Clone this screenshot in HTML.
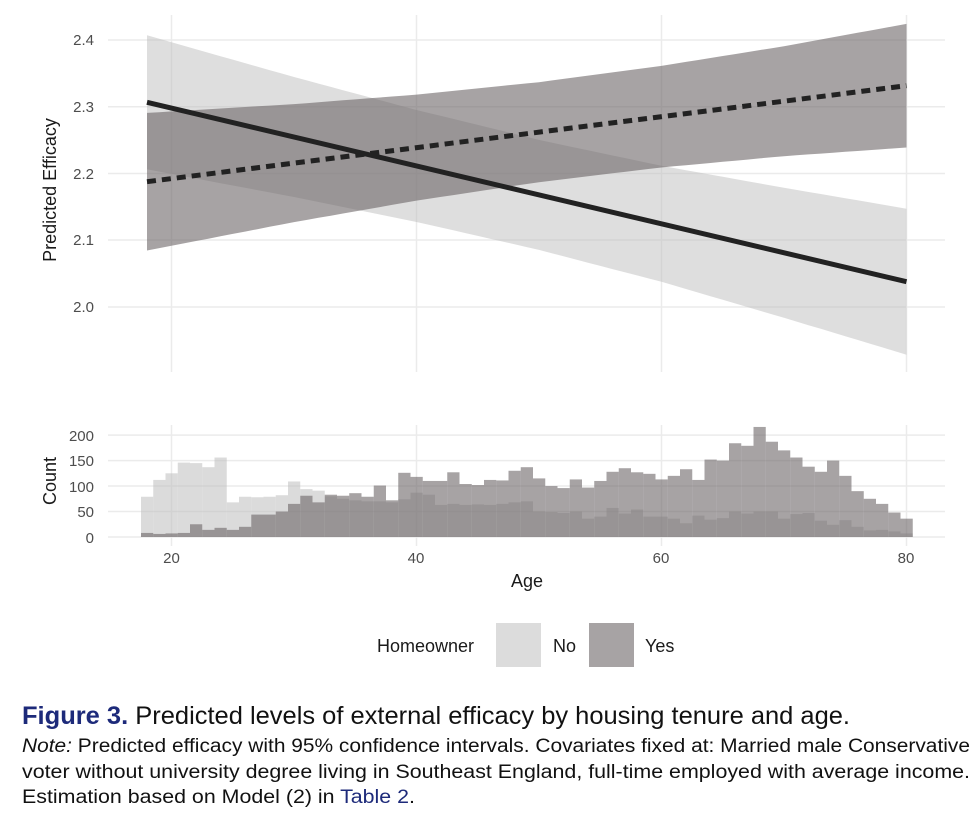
<!DOCTYPE html>
<html><head><meta charset="utf-8"><style>
html,body{margin:0;padding:0;background:#fff;}
svg{display:block;}
</style></head><body>
<svg id="s" width="976" height="828" xmlns="http://www.w3.org/2000/svg" font-family="Liberation Sans, sans-serif">
<rect width="976" height="828" fill="#fff"/>
<g id="grid" stroke="#ebebeb" stroke-width="1.5"></g>
<g id="bands"></g>
<g id="hist"></g>
<g id="lines"></g>
<g fill="#4d4d4d" font-size="15" text-anchor="end">
<text x="94" y="45">2.4</text>
<text x="94" y="112">2.3</text>
<text x="94" y="179">2.2</text>
<text x="94" y="245">2.1</text>
<text x="94" y="312">2.0</text>
<text x="94" y="441">200</text>
<text x="94" y="466">150</text>
<text x="94" y="492">100</text>
<text x="94" y="517">50</text>
<text x="94" y="543">0</text>
</g>
<g fill="#4d4d4d" font-size="15" text-anchor="middle">
<text x="171.5" y="563">20</text>
<text x="416" y="563">40</text>
<text x="661" y="563">60</text>
<text x="906" y="563">80</text>
</g>
<g fill="#1a1a1a" font-size="18" text-anchor="middle">
<text transform="translate(56,190) rotate(-90)">Predicted Efficacy</text>
<text transform="translate(56,481) rotate(-90)">Count</text>
<text x="527" y="587">Age</text>
</g>
<g font-size="18" fill="#1a1a1a">
<text x="377" y="652">Homeowner</text>
<rect x="496" y="623" width="45" height="44" fill="#dcdcdc"/>
<text x="553" y="652">No</text>
<rect x="589" y="623" width="45" height="44" fill="#a7a3a4"/>
<text x="645" y="652">Yes</text>
</g>
<g font-size="25">
<text x="22" y="724" textLength="828" lengthAdjust="spacingAndGlyphs"><tspan fill="#1d2a7a" font-weight="bold">Figure 3.</tspan><tspan fill="#111"> Predicted levels of external efficacy by housing tenure and age.</tspan></text>
</g>
<g font-size="19" fill="#111">
<text x="22" y="752" textLength="948" lengthAdjust="spacingAndGlyphs"><tspan font-style="italic">Note:</tspan> Predicted efficacy with 95% confidence intervals. Covariates fixed at: Married male Conservative</text>
<text x="22" y="778" textLength="948" lengthAdjust="spacingAndGlyphs">voter without university degree living in Southeast England, full-time employed with average income.</text>
<text x="22" y="803" textLength="393" lengthAdjust="spacingAndGlyphs">Estimation based on Model (2) in <tspan fill="#1d2a7a">Table 2</tspan>.</text>
</g>
</svg>
<script>
var NS="http://www.w3.org/2000/svg";
function el(p,t,a){var e=document.createElementNS(NS,t);for(var k in a)e.setAttribute(k,a[k]);p.appendChild(e);return e;}
function X(a){return 171.5+(a-20)*12.25;}
var g=document.getElementById('grid');
[40,106.75,173.5,240,307].forEach(function(y){el(g,'line',{x1:108,x2:945,y1:y,y2:y});});
[20,40,60,80].forEach(function(a){el(g,'line',{x1:X(a),x2:X(a),y1:15,y2:372});el(g,'line',{x1:X(a),x2:X(a),y1:425,y2:546});});
[0,50,100,150,200].forEach(function(c){var y=537-c*0.5095;el(g,'line',{x1:108,x2:945,y1:y,y2:y});});
// bands
function interp(pts,a){for(var i=0;i<pts.length-1;i++){if(a<=pts[i+1][0]){var t=(a-pts[i][0])/(pts[i+1][0]-pts[i][0]);return pts[i][1]+t*(pts[i+1][1]-pts[i][1]);}}return pts[pts.length-1][1];}
function band(cf,hp,fill,op){var up=[],lo=[];for(var a=18;a<=80.001;a+=1){var x=X(a),c=cf(a),h=interp(hp,a);up.push(x.toFixed(1)+','+(c-h).toFixed(1));lo.unshift(x.toFixed(1)+','+(c+h).toFixed(1));}
el(document.getElementById('bands'),'polygon',{points:up.concat(lo).join(' '),fill:fill,'fill-opacity':op});}
var noC=function(a){return 102.3+(a-18)*179.4/62;};
var yesC=function(a){return 181.7-(a-18)*96/62;};
band(noC,[[18,67],[30,60],[40,56],[50,55],[60,58],[70,65],[80,73]],'rgb(189,189,189)',0.5);
band(yesC,[[18,68.8],[30,59],[40,53],[50,50],[60,50.8],[70,55],[80,61.8]],'rgb(102,95,97)',0.576);
var L=document.getElementById('lines');
el(L,'line',{x1:X(18),y1:noC(18),x2:X(80),y2:noC(80),stroke:'#222',"stroke-width":5});
el(L,'line',{x1:X(18),y1:yesC(18),x2:X(80),y2:yesC(80),stroke:'#222',"stroke-width":5,"stroke-dasharray":"9,6"});
// histogram
var no=[79,112,125,146,145,137,156,68,79,78,79,82,109,94,91,80,75,72,70,70,68,74,87,83,63,65,63,64,63,65,68,70,50,49,47,50,36,40,57,46,54,40,40,36,27,42,34,37,50,46,50,50,36,45,47,32,24,33,20,13,14,11,7];
var yes=[8,6,7,8,25,14,18,14,20,44,44,50,65,81,68,83,81,86,79,101,72,126,118,110,110,127,104,102,112,111,130,137,115,100,96,113,97,110,128,135,127,124,113,120,133,112,152,150,184,179,216,187,170,156,138,128,150,120,90,75,65,48,36];
var H=document.getElementById('hist');
for(var i=0;i<no.length;i++){var x=141+12.25*i;var h=no[i]*0.5095;el(H,'rect',{x:x,y:537-h,width:12.25,height:h,fill:'rgb(189,189,189)','fill-opacity':0.55});}
for(var i=0;i<yes.length;i++){var x=141+12.25*i;var h=yes[i]*0.5095;el(H,'rect',{x:x,y:537-h,width:12.25,height:h,fill:'rgb(102,95,97)','fill-opacity':0.576});}
</script>
</body></html>
